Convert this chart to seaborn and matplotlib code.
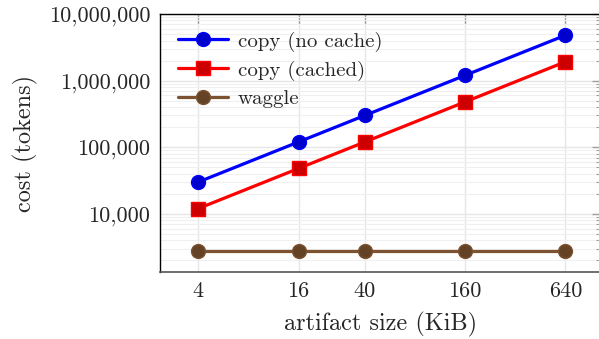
import numpy as np
import pandas as pd
import seaborn as sns
import matplotlib.pyplot as plt
from matplotlib.ticker import FixedLocator, FuncFormatter, LogLocator, NullFormatter, NullLocator

# data
sizes_kib = [4, 16, 40, 160, 640]
copy_no_cache = [30000, 120000, 300000, 1200000, 4800000]
copy_cached = [12000, 48000, 120000, 480000, 1920000]
waggle = [2750, 2750, 2750, 2750, 2750]

series_names = ["copy (no cache)", "copy (cached)", "waggle"]
series_values = [copy_no_cache, copy_cached, waggle]
colors = ["#0000ff", "#ff0000", "#7d5230"]
face_colors = ["#0000cc", "#cc0000", "#644226"]
markers = ["o", "s", "o"]

sns.set_style("white")
plt.rcParams["font.family"] = "serif"
plt.rcParams["font.serif"] = ["cmr10", "DejaVu Serif"]
plt.rcParams["axes.formatter.use_mathtext"] = True

fig = plt.figure(figsize=(5.99, 3.39), dpi=100)
ax = fig.add_axes([160 / 599, 1 - 272 / 339, 442 / 599, 258 / 339])

for name, vals, c, fc, m in zip(series_names, series_values, colors, face_colors, markers):
    df = pd.DataFrame({"size": sizes_kib, "cost": vals})
    sns.lineplot(data=df, x="size", y="cost", ax=ax, color=c, linewidth=2.3,
                 marker=m, markersize=10, markerfacecolor=fc, markeredgecolor=c,
                 markeredgewidth=1.0, label=name)

ax.set_xscale("log")
ax.set_yscale("log")
ax.set_xlim(2.36, 1060)
ax.set_ylim(1340, 1e7)

ax.xaxis.set_major_locator(FixedLocator(sizes_kib))
ax.xaxis.set_major_formatter(FuncFormatter(lambda v, p: f"{int(round(v))}"))
ax.xaxis.set_minor_locator(NullLocator())
ax.yaxis.set_major_locator(LogLocator(base=10, numticks=12))
ax.yaxis.set_minor_locator(LogLocator(base=10, subs=np.arange(2, 10), numticks=12))
ax.yaxis.set_major_formatter(FuncFormatter(lambda v, p: f"{int(round(v)):,}"))
ax.yaxis.set_minor_formatter(NullFormatter())

ax.grid(True, which="major", color="#e6e6e6", linewidth=1.0)
ax.grid(True, which="minor", axis="y", color="#f0f0f0", linewidth=0.8)
ax.set_axisbelow(True)

ax.tick_params(which="both", direction="in", top=True, right=True, color="#a0a0a0")
ax.tick_params(which="major", length=7, width=1.0, labelsize=16, pad=7)
ax.tick_params(which="minor", length=4, width=0.8)

for s in ["left", "top"]:
    ax.spines[s].set_color("black")
    ax.spines[s].set_linewidth(1.0)
ax.spines["bottom"].set_color("#555555")
ax.spines["bottom"].set_linewidth(1.2)
ax.spines["right"].set_visible(False)

ax.set_xlabel("artifact size (KiB)", fontsize=17.5, labelpad=8)
ax.set_ylabel("cost (tokens)", fontsize=17.5, labelpad=8)

ax.legend(loc="upper left", frameon=False, fontsize=15, handlelength=2.4,
          borderaxespad=0.55, labelspacing=0.42, handletextpad=0.5,
          borderpad=0.3)

fig.savefig("out.png", dpi=100)
